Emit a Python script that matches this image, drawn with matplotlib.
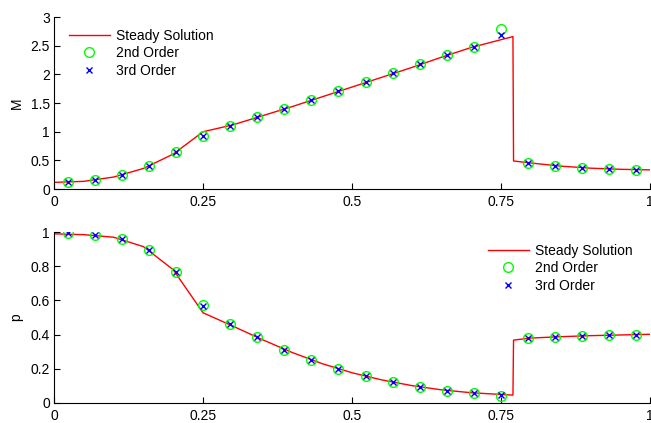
import numpy as np
import matplotlib
matplotlib.use('Agg')
import matplotlib.pyplot as plt

plt.rcParams['font.family'] = ['Liberation Sans', 'DejaVu Sans']

# ── Data ─────────────────────────────────────────────────────────────────────
# cell centres (22 cells)
x_cells = [(i + 0.5) / 22 for i in range(22)]

# steady solution
x_steady = [0.0, 0.05, 0.1, 0.15, 0.2, 0.25, 0.3, 0.35, 0.4, 0.45, 0.5,
            0.55, 0.6, 0.65, 0.7, 0.77, 0.771, 0.8, 0.85, 0.9, 0.95, 1.0]
M_steady = [0.117, 0.135, 0.21, 0.36, 0.61, 1.0, 1.12, 1.28, 1.44, 1.61, 1.78,
            1.95, 2.12, 2.30, 2.47, 2.66, 0.49, 0.455, 0.40, 0.365, 0.345, 0.335]
p_steady = [0.99, 0.985, 0.97, 0.915, 0.78, 0.528, 0.45, 0.37, 0.295, 0.23, 0.177,
            0.135, 0.102, 0.077, 0.06, 0.046, 0.368, 0.38, 0.388, 0.394, 0.398, 0.402]

M_2nd = [0.127, 0.157, 0.244, 0.40, 0.64, 0.925, 1.10, 1.25, 1.40, 1.55, 1.705,
         1.87, 2.02, 2.18, 2.34, 2.47, 2.79, 0.45, 0.41, 0.37, 0.35, 0.34]
M_3rd = [0.127, 0.157, 0.244, 0.40, 0.64, 0.925, 1.10, 1.25, 1.40, 1.55, 1.705,
         1.87, 2.02, 2.18, 2.34, 2.47, 2.69, 0.45, 0.41, 0.37, 0.35, 0.34]

p_2nd = [0.992, 0.982, 0.959, 0.897, 0.764, 0.575, 0.464, 0.384, 0.312, 0.251, 0.199,
         0.156, 0.121, 0.094, 0.072, 0.058, 0.043, 0.382, 0.385, 0.392, 0.395, 0.398]
p_3rd = [0.992, 0.982, 0.959, 0.897, 0.764, 0.570, 0.464, 0.384, 0.312, 0.251, 0.199,
         0.156, 0.121, 0.094, 0.072, 0.058, 0.045, 0.382, 0.385, 0.392, 0.395, 0.398]

x_ticks = [0, 0.25, 0.5, 0.75, 1]
x_ticklabels = ['0', '0.25', '0.5', '0.75', '1']
M_ticks = [0, 0.5, 1, 1.5, 2, 2.5, 3]
M_ticklabels = ['0', '0.5', '1', '1.5', '2', '2.5', '3']
p_ticks = [0, 0.2, 0.4, 0.6, 0.8, 1]
p_ticklabels = ['0', '0.2', '0.4', '0.6', '0.8', '1']

FS = 10


def style_axes(ax):
    for side in ('top', 'right'):
        ax.spines[side].set_visible(False)
    ax.tick_params(direction='in', length=4, labelsize=FS)
    ax.tick_params(axis='x', pad=4.5)
    ax.tick_params(axis='y', pad=3)
    ax.set_xlim(0, 1)
    ax.set_xticks(x_ticks)
    ax.set_xticklabels(x_ticklabels)


def draw(ax, y_line, y_2nd, y_3rd):
    ax.plot(x_steady, y_line, color='red', lw=1, label='Steady Solution')
    ax.plot(x_cells, y_2nd, 'o', mfc='none', mec='#00ff00', ms=7, mew=1,
            label='2nd Order')
    ax.plot(x_cells, y_3rd, 'x', color='blue', ms=4.5, mew=1,
            label='3rd Order')


fig = plt.figure(figsize=(6.51, 4.23), dpi=100)

# ── Top: Mach number ─────────────────────────────────────────────────────────
ax1 = fig.add_axes([0.083, 0.553, 0.9155, 0.4066])
draw(ax1, M_steady, M_2nd, M_3rd)
style_axes(ax1)
ax1.set_ylim(0, 3)
ax1.set_yticks(M_ticks)
ax1.set_yticklabels(M_ticklabels)
ax1.set_ylabel('M', fontsize=FS)
ax1.yaxis.set_label_coords(-0.051, 0.5)
ax1.legend(loc='upper left', frameon=False, fontsize=FS, handlelength=2.95,
           handletextpad=0.4, labelspacing=0.25, borderpad=0.4,
           borderaxespad=0, bbox_to_anchor=(0.0158, 0.965))

# ── Bottom: pressure ────────────────────────────────────────────────────────
ax2 = fig.add_axes([0.083, 0.0473, 0.9155, 0.404])
draw(ax2, p_steady, p_2nd, p_3rd)
style_axes(ax2)
ax2.set_ylim(0, 1)
ax2.set_yticks(p_ticks)
ax2.set_yticklabels(p_ticklabels)
ax2.set_ylabel('p', fontsize=FS)
ax2.yaxis.set_label_coords(-0.051, 0.5)
ax2.legend(loc='upper left', frameon=False, fontsize=FS, handlelength=2.95,
           handletextpad=0.4, labelspacing=0.25, borderpad=0.4,
           borderaxespad=0, bbox_to_anchor=(0.7188, 0.965))

fig.savefig('out.png', dpi=100)
